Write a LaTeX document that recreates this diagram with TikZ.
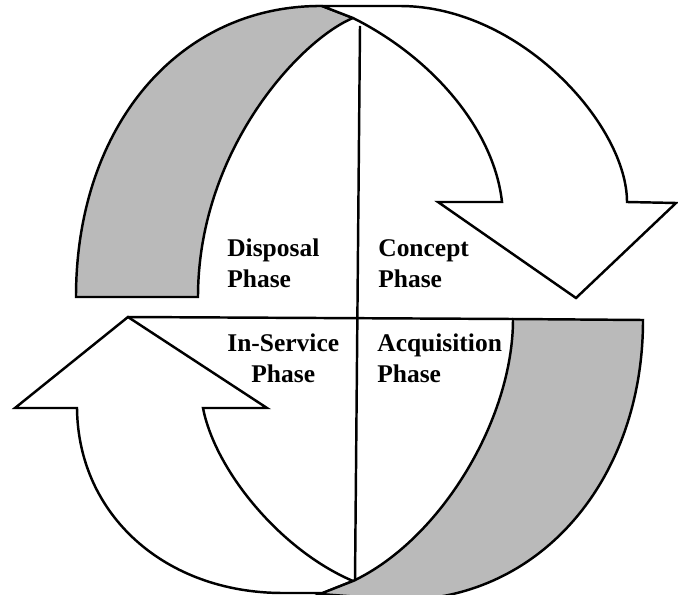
\documentclass[tikz,border=0pt]{standalone}
\usepackage{fontspec}
\setmainfont{Liberation Serif}
\tikzset{
  backface/.style={draw, line width=1.4pt, fill=black!27},
  frontface/.style={draw, line width=1.4pt, fill=white},
  divider/.style={line width=1.4pt},
  phase/.style={font=\bfseries\fontsize{14.5}{17.6}\selectfont, inner sep=0pt, align=left}
}
\begin{document}
\begin{tikzpicture}[x=0.02cm, y=-0.02cm]
\useasboundingbox (0,0) rectangle (678,594);

\coordinate (downtip) at (576,298);
\coordinate (uptip) at (128,317);

% upper band, back side
\draw [backface] (198,297) -- (76,297) .. controls (76,125) and (180,5) .. (322,6)
  -- (353,18) .. controls (300,40) and (198,150) .. (198,297) -- cycle;
% upper arrow, front side
\draw [frontface] (322,6) -- (400,6) .. controls (520,6) and (627,125) .. (627,202)
  -- (676,203) -- (downtip) -- (438,202) -- (502,202)
  .. controls (494,130) and (433,58) .. (353,18) -- cycle;

% lower arrow, front side
\draw [frontface] (uptip) -- (267,408) -- (203,408)
  .. controls (215,470) and (280,550) .. (353,581) -- (323,593) -- (283,593)
  .. controls (165,593) and (78,515) .. (77,408) -- (15,408) -- cycle;
% lower band, back side
\draw [backface] (513,319) -- (643,320) .. controls (643,480) and (540,600) .. (400,600)
  -- (320,594) -- (353,581) .. controls (440,540) and (513,420) .. (513,319) -- cycle;

\draw [divider] (uptip) -- (513,319);
\draw [divider] (360,26) -- (355,581);

\node [phase, anchor=base west] (disposal) at (227,287) {Disposal\\Phase};
\node [phase, anchor=base west] (concept) at (378,287) {Concept\\Phase};
\node [phase, anchor=base west, align=center] (inservice) at (227,382) {In-Service\\Phase};
\node [phase, anchor=base west] (acquisition) at (377,382) {Acquisition\\Phase};

\end{tikzpicture}
\end{document}
